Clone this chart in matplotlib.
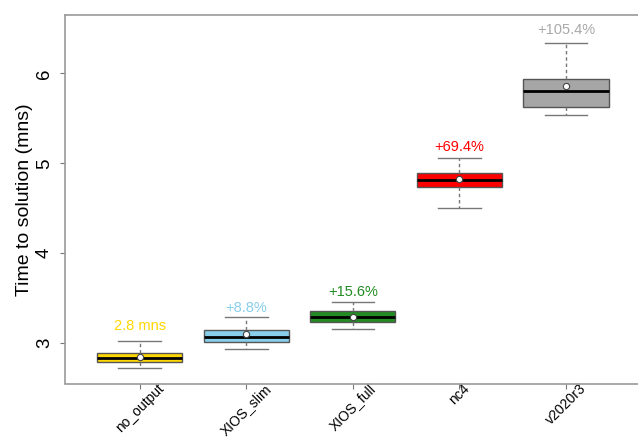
import matplotlib
matplotlib.use("Agg")
import matplotlib.pyplot as plt

plt.rcParams['font.family'] = ['Liberation Sans', 'DejaVu Sans']

# data
labels = ["no_output", "XIOS_slim", "XIOS_full", "nc4", "v2020r3"]
whislo = [2.722, 2.933, 3.162, 4.503, 5.533]
q1 = [2.792, 3.018, 3.233, 4.733, 5.629]
med = [2.840, 3.073, 3.289, 4.818, 5.807]
q3 = [2.896, 3.148, 3.356, 4.889, 5.933]
whishi = [3.022, 3.296, 3.462, 5.056, 6.333]
means = [2.851, 3.107, 3.296, 4.826, 5.856]

annot_text = ["2.8 mns", "+8.8%", "+15.6%", "+69.4%", "+105.4%"]
annot_y = [3.196, 3.389, 3.573, 5.184, 6.481]
colors = ["#FFD700", "#87CEEB", "#228B22", "#FF0000", "#A6A6A6"]
text_colors = ["#FFD700", "#87CEEB", "#228B22", "#FF0000", "#A9A9A9"]

stats = []
for i in range(len(labels)):
    stats.append(dict(label=labels[i], whislo=whislo[i], q1=q1[i], med=med[i],
                      q3=q3[i], whishi=whishi[i], mean=means[i], fliers=[]))

fig = plt.figure(figsize=(6.38, 4.37), dpi=100)
ax = fig.add_axes([65 / 638, 1 - 383.5 / 437, (640.7 - 65) / 638, (383.5 - 15) / 437])

pos = list(range(1, len(labels) + 1))
bp = ax.bxp(stats, positions=pos, widths=0.8, patch_artist=True, showmeans=True,
            boxprops=dict(edgecolor="#555555", linewidth=1.0),
            medianprops=dict(color="black", linewidth=2.0),
            whiskerprops=dict(color="#777777", linestyle=(0, (2.5, 2)), linewidth=1.0),
            capprops=dict(color="#777777", linewidth=1.0),
            meanprops=dict(marker="o", markerfacecolor="white", markeredgecolor="#444444",
                           markersize=4.5, markeredgewidth=0.8),
            capwidths=0.4)
for patch, c in zip(bp["boxes"], colors):
    patch.set_facecolor(c)

for x, y, t, c in zip(pos, annot_y, annot_text, text_colors):
    ax.text(x, y, t, color=c, ha="center", va="center", fontsize=10.5)

ax.set_xlim(0.3, 5.7)
ax.set_ylim(2.553, 6.648)
ax.set_yticks([3, 4, 5, 6])
ax.set_yticklabels(["3", "4", "5", "6"], rotation=90, va="center", fontsize=13.5)
ax.set_xticks(pos)
ax.set_xticklabels(labels, rotation=45, ha="center", va="top", fontsize=10)
ax.tick_params(axis="both", direction="out", length=3.6, color="#777777", width=0.8)
ax.tick_params(axis="y", pad=5)
ax.tick_params(axis="x", pad=-5)
ax.set_ylabel("Time to solution (mns)", fontsize=14, labelpad=2)

for s in ax.spines.values():
    s.set_color("#999999")
    s.set_linewidth(1.2)

fig.savefig("out.png", dpi=100)
